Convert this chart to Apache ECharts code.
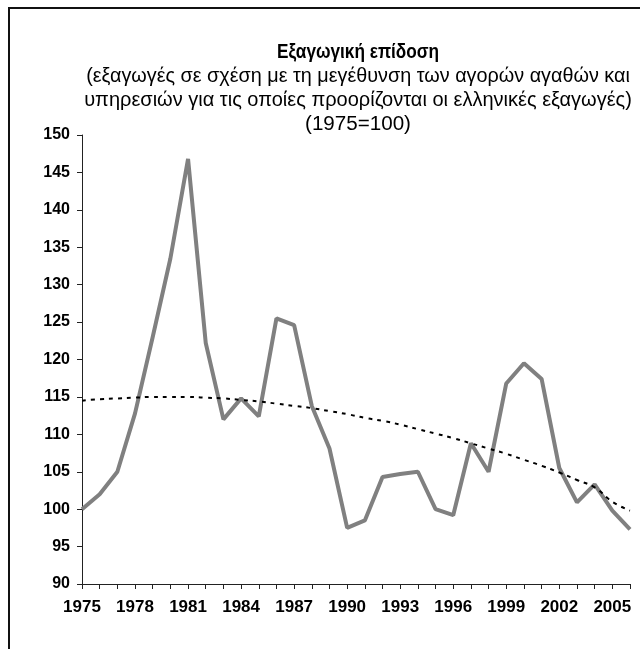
<!DOCTYPE html>
<html>
<head>
<meta charset="utf-8">
<script src="https://cdn.jsdelivr.net/npm/echarts@6/dist/echarts.min.js"></script>
<style>
  html, body { margin: 0; padding: 0; background: #fff; }
  #frame { position: absolute; left: 8px; top: 7px; width: 640px; height: 650px;
           border-top: 2px solid #111; border-left: 2px solid #111; }
  #chart-container { position: absolute; left: 0; top: 0; width: 640px; height: 649px; }
</style>
</head>
<body>
<div id="frame"></div>
<div id="chart-container"></div>
<script>
var dom = document.getElementById('chart-container');
var myChart = echarts.init(dom, null, { renderer: 'canvas' });

// δεδομένα
const years = [];
for (let y = 1975; y <= 2006; y++) years.push(String(y));

const performance = [100, 102, 105, 112.8, 123, 133.5, 146.8, 122.2, 112, 114.8,
  112.4, 125.5, 124.6, 113.8, 108.1, 97.5, 98.5, 104.3, 104.7, 105,
  100, 99.2, 108.8, 105, 116.8, 119.5, 117.4, 105.5, 100.9, 103.3,
  99.8, 97.3];

const trend = [114.5, 114.7, 114.8, 114.9, 115, 115, 115, 114.9, 114.8, 114.6,
  114.4, 114.1, 113.8, 113.5, 113.1, 112.7, 112.2, 111.8, 111.3, 110.7,
  110.1, 109.5, 108.8, 108.1, 107.4, 106.6, 105.8, 104.9, 103.9, 102.9,
  101.0, 99.8];

const titleLines = [
  'Εξαγωγική επίδοση',
  '(εξαγωγές σε σχέση με τη μεγέθυνση των αγορών αγαθών και',
  'υπηρεσιών για τις οποίες προορίζονται οι ελληνικές εξαγωγές)',
  '(1975=100)'
];
// οριζόντια συμπίεση ανά γραμμή (στενή γραμματοσειρά)
const titleScale = [0.86, 0.99, 1.0, 1.03];

const FONT = '"Liberation Sans Narrow", "Liberation Sans", sans-serif';

var option = {
  animation: false,
  grid: { left: 82, right: 10, top: 135, bottom: 65 },
  graphic: titleLines.map(function (t, i) {
    return {
      type: 'text',
      x: 358,
      y: 52 + i * 24,
      scaleX: titleScale[i],
      style: {
        text: t,
        align: 'center',
        verticalAlign: 'middle',
        font: (i === 0 ? 'bold ' : '') + '20px ' + FONT,
        fill: '#000'
      }
    };
  }),
  xAxis: {
    type: 'category',
    data: years,
    boundaryGap: false,
    axisLine: { lineStyle: { color: '#222', width: 1 } },
    axisTick: { show: true, interval: 0, length: 5, lineStyle: { color: '#222' } },
    axisLabel: {
      interval: 2,
      margin: 15,
      fontFamily: FONT,
      fontWeight: 'bold',
      fontSize: 17,
      color: '#000'
    }
  },
  yAxis: {
    type: 'value',
    min: 90,
    max: 150,
    interval: 5,
    splitLine: { show: false },
    axisLine: { show: true, lineStyle: { color: '#222', width: 1 } },
    axisTick: { show: true, length: 5, lineStyle: { color: '#222' } },
    axisLabel: {
      margin: 12,
      fontFamily: FONT,
      fontWeight: 'bold',
      fontSize: 16,
      color: '#000'
    }
  },
  series: [
    {
      name: 'Εξαγωγική επίδοση',
      type: 'line',
      data: performance,
      showSymbol: false,
      lineStyle: { color: '#808080', width: 4 },
      z: 2
    },
    {
      name: 'Τάση',
      type: 'line',
      data: trend,
      showSymbol: false,
      smooth: true,
      lineStyle: { color: '#000', width: 2, type: [4, 5] },
      z: 3
    }
  ]
};

myChart.setOption(option);
window.addEventListener('resize', myChart.resize);
</script>
</body>
</html>
